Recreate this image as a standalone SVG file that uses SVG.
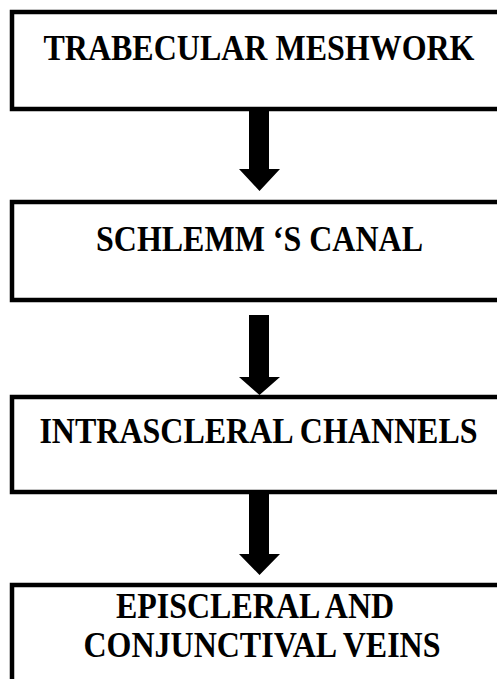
<svg xmlns="http://www.w3.org/2000/svg" width="497" height="679" viewBox="0 0 497 679">
<style>
.box{fill:#fff;stroke:#000;stroke-width:4.5;stroke-linejoin:miter}
.lbl{font-family:"Liberation Serif","Times New Roman",serif;font-weight:bold;font-size:32px;fill:#000;text-anchor:middle}
.arr{fill:#000;stroke:none}
</style>
<rect width="497" height="679" fill="#fff"/>
<g id="node1"><rect class="box" x="12" y="12" width="520" height="97"/><text class="lbl" transform="translate(259 60) scale(1 1.1)">TRABECULAR MESHWORK</text></g>
<g id="node2"><rect class="box" x="12" y="202" width="520" height="98"/><text class="lbl" transform="translate(259.5 251) scale(1 1.1)">SCHLEMM ‘S CANAL</text></g>
<g id="node3"><rect class="box" x="12" y="397" width="520" height="95"/><text class="lbl" transform="translate(258.5 443) scale(1 1.1)">INTRASCLERAL CHANNELS</text></g>
<g id="node4"><rect class="box" x="12" y="585" width="520" height="140"/><text class="lbl" transform="translate(255 618) scale(1 1.1)">EPISCLERAL AND</text><text class="lbl" transform="translate(262 657) scale(1 1.1)">CONJUNCTIVAL VEINS</text></g>
<g id="connectors">
<path class="arr" d="M249 111 H269 V169 H280 L259.5 191 L239 169 H249 Z"/>
<path class="arr" d="M249 315 H269 V377 H280 L259.5 395 L239 377 H249 Z"/>
<path class="arr" d="M249 494 H269 V554 H280 L259.5 575 L239 554 H249 Z"/>
</g>
</svg>
